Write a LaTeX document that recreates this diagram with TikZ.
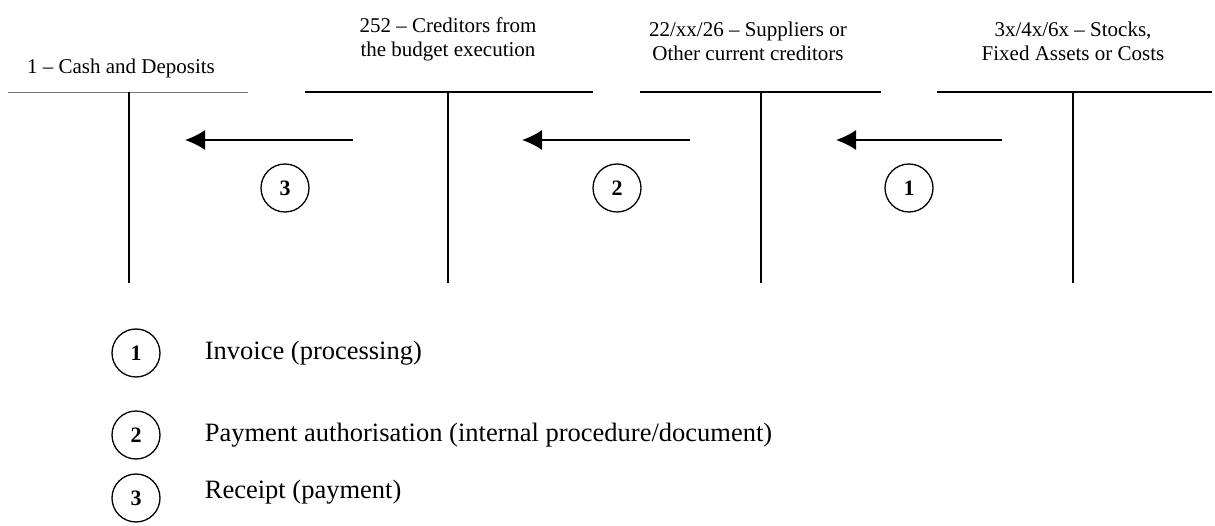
\documentclass[tikz,border=0pt]{standalone}
\usepackage{fontspec}
\setmainfont{Liberation Serif}
\usepackage{tikz}
\usetikzlibrary{arrows.meta,positioning}
\definecolor{rulegray}{RGB}{120,120,120}

\begin{document}
\begin{tikzpicture}[x=1pt, y=-1pt, every node/.style={align=center, inner sep=0pt},
    acctitle/.style={anchor=south, font=\fontsize{21}{24}\selectfont},
    tline/.style={line width=1.6pt},
    circnum/.style={draw, circle, line width=1.3pt, minimum size=48pt, font=\fontsize{22}{22}\selectfont\bfseries},
    legtext/.style={anchor=west, font=\fontsize{26.5}{30}\selectfont},
    flow/.style={line width=1.6pt, -{Latex[length=20pt, width=20pt]}}]
    \useasboundingbox (0,0) rectangle (1215,526);

    % T-accounts
    \node[acctitle] (cash) at (121,78) {1 -- Cash and Deposits};
    \node[acctitle] (budget) at (448,61) {252 -- Creditors from\\the budget execution};
    \node[acctitle] (suppl) at (748,61) {22/xx/26 -- Suppliers or\\Other current creditors};
    \node[acctitle] (stock) at (1073,61) {3x/4x/6x -- Stocks,\\Fixed Assets or Costs};

    \draw[rulegray, line width=0.8pt] (8,92) -- (248,92);
    \draw[tline] (129,92) -- (129,283);
    \draw[tline] (305,92) -- (593,92);
    \draw[tline] (448,92) -- (448,283);
    \draw[tline] (640,92) -- (881,92);
    \draw[tline] (761,92) -- (761,283);
    \draw[tline] (937,92) -- (1212,92);
    \draw[tline] (1073,92) -- (1073,283);

    % flows
    \coordinate (f1a) at (1002,140); \coordinate (f1b) at (836,140);
    \coordinate (f2a) at (690,140);  \coordinate (f2b) at (522,140);
    \coordinate (f3a) at (353,140);  \coordinate (f3b) at (185,140);
    \draw[flow] (f1a) -- (f1b);
    \draw[flow] (f2a) -- (f2b);
    \draw[flow] (f3a) -- (f3b);
    \node[circnum] (n1) at (909,188) {1};
    \node[circnum] (n2) at (617,188) {2};
    \node[circnum] (n3) at (285,188) {3};

    % legend
    \node[circnum] (leg1) at (136,353) {1};
    \node[circnum] (leg2) at (136,435) {2};
    \node[circnum] (leg3) at (136,498) {3};
    \node[legtext, right=44pt of leg1] (txt1) {Invoice (processing)};
    \node[legtext, right=44pt of leg2] (txt2) {Payment authorisation (internal procedure/document)};
    \node[legtext, right=44pt of leg3, yshift=6pt] (txt3) {Receipt (payment)};
\end{tikzpicture}
\end{document}
